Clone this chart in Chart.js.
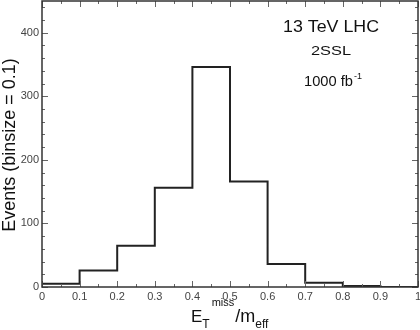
<!DOCTYPE html>
<html>
<head>
<meta charset="utf-8">
<script src="https://cdn.jsdelivr.net/npm/chart.js@4"></script>
<style>
  html, body { margin: 0; padding: 0; background: #fff; }
  #wrap { width: 420px; height: 330px; }
</style>
</head>
<body>
<div id="wrap"><canvas id="hist"></canvas></div>
<script>
// bin edges and contents (binsize = 0.1)
const binEdges = [0, 0.1, 0.2, 0.3, 0.4, 0.5, 0.6, 0.7, 0.8, 0.9, 1];
const events = [5, 26, 65, 156, 346, 166, 36, 6.5, 1.5, 0];
const xTicks = [0, 0.1, 0.2, 0.3, 0.4, 0.5, 0.6, 0.7, 0.8, 0.9, 1];
const yTicks = [0, 100, 200, 300, 400];

const font = "'Liberation Sans', Arial, sans-serif";

// step points: left edge of each bin, then closing point at the last edge
const points = [{ x: binEdges[0], y: 0 }];
events.forEach((v, i) => points.push({ x: binEdges[i], y: v }));
points.push({ x: binEdges[binEdges.length - 1], y: events[events.length - 1] });

// draw text starting at x, squeezed/stretched to a given width
const wideText = (ctx, text, x, y, size, width) => {
    ctx.font = `${size}px ${font}`;
    const w = ctx.measureText(text).width;
    ctx.save();
    ctx.translate(x, y);
    ctx.scale(width / w, 1);
    ctx.fillText(text, 0, 0);
    ctx.restore();
};

const frame = {
    id: "frame",
    afterDatasetsDraw(chart) {
        const { ctx, chartArea: a, scales: { x, y } } = chart;
        ctx.save();
        ctx.strokeStyle = "#666";
        ctx.lineWidth = 1;
        ctx.beginPath();
        for (let i = 0; i <= 20; i++) {
            const px = Math.round(x.getPixelForValue(i * 0.05)) + 0.5;
            const len = i % 2 === 0 ? 6 : 3;
            ctx.moveTo(px, a.bottom); ctx.lineTo(px, a.bottom - len);
            ctx.moveTo(px, a.top); ctx.lineTo(px, a.top + len);
        }
        for (let v = 0; v <= 440; v += 20) {
            const py = Math.round(y.getPixelForValue(v)) + 0.5;
            const len = v % 100 === 0 ? 6 : 3;
            ctx.moveTo(a.left, py); ctx.lineTo(a.left + len, py);
            ctx.moveTo(a.right, py); ctx.lineTo(a.right - len, py);
        }
        ctx.stroke();
        ctx.strokeStyle = "#333";
        ctx.lineWidth = 1.5;
        ctx.strokeRect(a.left, a.top, a.right - a.left, a.bottom - a.top);

        // annotations
        ctx.fillStyle = "#111";
        ctx.textAlign = "left";
        ctx.textBaseline = "alphabetic";
        wideText(ctx, "13 TeV LHC", 283, 32, 16, 96);
        wideText(ctx, "2SSL", 311, 55, 13, 40);
        wideText(ctx, "1000 fb", 304, 86, 14, 49);
        wideText(ctx, "-1", 354, 79, 9, 8);

        // y title
        ctx.save();
        ctx.translate(15, 145);
        ctx.rotate(-Math.PI / 2);
        ctx.textAlign = "center";
        ctx.font = `18px ${font}`;
        ctx.fillText("Events (binsize = 0.1)", 0, 0);
        ctx.restore();

        // x title: E_T^miss / m_eff
        let cx = 191;
        const base = 322;
        ctx.font = `17px ${font}`;
        ctx.fillText("E", cx, base);
        cx += ctx.measureText("E").width;
        ctx.font = `12px ${font}`;
        ctx.fillText("T", cx, base + 6);
        cx += ctx.measureText("T").width + 2;
        ctx.font = `11px ${font}`;
        ctx.fillText("miss", cx, base - 16);
        cx += ctx.measureText("miss").width + 1;
        ctx.font = `18px ${font}`;
        ctx.fillText("/m", cx, base);
        cx += ctx.measureText("/m").width;
        ctx.font = `12px ${font}`;
        ctx.fillText("eff", cx, base + 6);
        ctx.restore();
    },
};

new Chart(document.getElementById("hist"), {
    type: "line",
    data: {
        datasets: [
            {
                data: points,
                stepped: "before",
                borderColor: "#222",
                borderWidth: 2,
                pointRadius: 0,
                fill: false,
            },
        ],
    },
    options: {
        responsive: true,
        maintainAspectRatio: false,
        animation: false,
        layout: { padding: { top: 1, right: 2, left: 0, bottom: 0 } },
        plugins: { legend: { display: false }, tooltip: { enabled: false } },
        scales: {
            x: {
                type: "linear",
                min: 0,
                max: 1,
                afterBuildTicks: (s) => { s.ticks = xTicks.map((v) => ({ value: v })); },
                afterFit: (s) => { s.height = 43; s.paddingLeft = 0; s.paddingRight = 0; },
                grid: { display: false, drawTicks: false },
                border: { display: false },
                ticks: {
                    padding: 3,
                    maxRotation: 0,
                    autoSkip: false,
                    color: "#444",
                    font: { family: font, size: 11 },
                    callback: (v) => String(Math.round(v * 10) / 10),
                },
            },
            y: {
                min: 0,
                max: 450,
                afterBuildTicks: (s) => { s.ticks = yTicks.map((v) => ({ value: v })); },
                afterFit: (s) => { s.width = 42; s.paddingTop = 0; s.paddingBottom = 0; },
                grid: { display: false, drawTicks: false },
                border: { display: false },
                ticks: {
                    padding: 3,
                    color: "#444",
                    font: { family: font, size: 11 },
                },
            },
        },
    },
    plugins: [frame],
});
</script>
</body>
</html>
